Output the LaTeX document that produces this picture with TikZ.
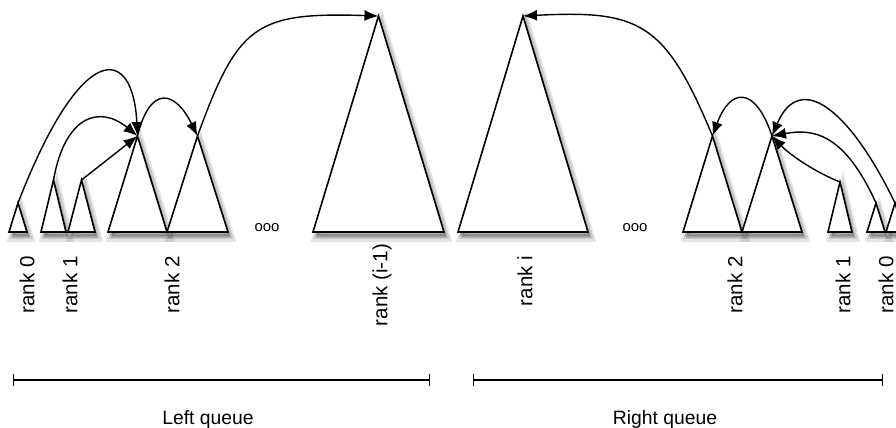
\documentclass[tikz,border=0pt]{standalone}
\usepackage{fontspec}
\setmainfont{Liberation Sans}
\usetikzlibrary{arrows.meta}

% one heap: name, left x, right x, apex y
\newcommand{\heaptri}[4]{%
  \draw[heap] (#2,232) -- ({(#2+#3)/2},#4) coordinate (#1) -- (#3,232) -- cycle;}

\begin{document}
\begin{tikzpicture}[
    x=0.5bp, y=-0.5bp,
    heap/.style={
        draw,
        fill=white,
        line width=0.8bp,
        line join=miter,
        preaction={fill=black, fill opacity=0.10, draw=black, draw opacity=0.10,
                   line width=4bp, transform canvas={xshift=1.5bp, yshift=-3bp}},
        preaction={fill=black, fill opacity=0.12, draw=black, draw opacity=0.12,
                   line width=2bp, transform canvas={xshift=1.5bp, yshift=-2.5bp}},
        preaction={fill=black, fill opacity=0.15,
                   transform canvas={xshift=1bp, yshift=-2bp}}
    },
    link/.style={
        -{Latex[length=7bp,width=5.5bp]},
        line width=0.7bp
    },
    rank/.style={
        rotate=90,
        anchor=center,
        inner sep=0pt,
        font=\fontsize{10.3}{12}\selectfont
    },
    dots/.style={
        inner sep=0pt,
        font=\fontsize{7.5}{8}\selectfont
    },
    span/.style={
        {Bar[width=6bp]}-{Bar[width=6bp]},
        line width=0.7bp
    },
    caption/.style={
        inner sep=0pt,
        font=\fontsize{9.7}{11}\selectfont
    }
]
    \useasboundingbox (0,0) rectangle (896,428);
    \clip (0,0) rectangle (896,428);

    % Left queue
    \heaptri{l0}{9}{27}{203}
    \heaptri{l1a}{41}{66}{180}
    \heaptri{l1b}{68}{95}{180}
    \heaptri{l2a}{108}{167}{136}
    \heaptri{l2b}{167}{228}{136}
    \heaptri{lim}{313}{444}{16}
    \node[dots] (ldots) at (267,228) {ooo};

    % Right queue
    \heaptri{ri}{458}{588}{16}
    \heaptri{r2a}{683}{742}{136}
    \heaptri{r2b}{742}{802}{136}
    \heaptri{r1}{828}{852}{182}
    \heaptri{r0a}{867}{885}{203}
    \heaptri{r0b}{886}{904}{203}
    \node[dots] (rdots) at (635,228) {ooo};

    % Links, left
    \draw[link] (l0) .. controls (82,38) and (133,45) .. (l2a);
    \draw[link] (l1a) .. controls (65,115) and (100,105) .. (l2a);
    \draw[link] (l1b) -- (l2a);
    \draw[link] (l2a) .. controls (150,85) and (175,90) .. (l2b);
    \draw[link] (l2b) .. controls (238,25) and (255,12) .. (lim);

    % Links, right
    \draw[link] (r2b) .. controls (755,85) and (730,88) .. (r2a);
    \draw[link] (r2a) .. controls (665,22) and (640,10) .. (ri);
    \draw[link] (r1) .. controls (815,172) and (790,155) .. (r2b);
    \draw[link] (r0a) .. controls (845,135) and (815,128) .. (r2b);
    \draw[link] (r0b) .. controls (850,110) and (800,70) .. (r2b);

    % Labels
    \node[rank] (tl0) at (27,285) {rank 0};
    \node[rank] (tl1) at (70,285) {rank 1};
    \node[rank] (tl2) at (172,285) {rank 2};
    \node[rank] (tlim) at (382,285) {rank (i-1)};
    \node[rank] (tri) at (525,281) {rank i};
    \node[rank] (tr2) at (735,285) {rank 2};
    \node[rank] (tr1) at (843,285) {rank 1};
    \node[rank] (tr0) at (886,285) {rank 0};

    % Spans
    \coordinate (lq-a) at (13,380);
    \coordinate (lq-b) at (430,380);
    \coordinate (rq-a) at (473,380);
    \coordinate (rq-b) at (883,380);
    \draw[span] (lq-a) -- (lq-b);
    \draw[span] (rq-a) -- (rq-b);
    \node[caption] (lq) at (208,420) {Left queue};
    \node[caption] (rq) at (665,420) {Right queue};
\end{tikzpicture}
\end{document}
